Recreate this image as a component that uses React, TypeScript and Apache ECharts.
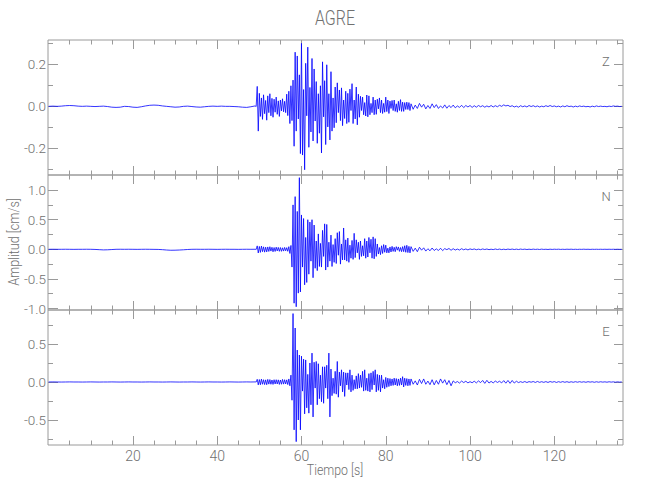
import React, { useEffect, useRef } from "react";
import * as echarts from "echarts";

// ---------- data (cm/s) ----------
// pre-event segment: t = 0 .. 48 s, one value per second
const zPre = [
  0.0, 0.001, 0.0, 0.001, 0.003, 0.004, 0.003, 0.001, 0.0, 0.001,
  0.0, -0.001, 0.0, 0.001, -0.001, -0.004, -0.005, -0.004, 0.0, -0.001,
  -0.004, -0.005, -0.002, 0.002, 0.005, 0.006, 0.005, 0.002, 0.0, -0.002,
  -0.004, -0.003, 0.0, 0.001, -0.001, -0.003, -0.004, -0.002, 0.0, 0.001,
  0.0, 0.001, 0.0, 0.0, -0.001, -0.002, -0.004, -0.005, -0.002,
];
const nPre = [
  0.0, 0.001, 0.0, 0.0, 0.001, 0.0, -0.001, 0.0, 0.0, 0.001,
  0.0, -0.002, -0.006, -0.01, -0.008, -0.004, 0.0, 0.001, 0.0, 0.001,
  0.0, -0.001, 0.0, 0.001, 0.0, -0.001, -0.002, -0.006, -0.012, -0.016,
  -0.015, -0.012, -0.008, -0.003, 0.0, 0.001, 0.0, 0.0, 0.001, 0.0,
  -0.001, 0.0, 0.001, 0.0, 0.0, -0.001, 0.0, 0.001, 0.0,
];
const ePre = [
  0.0, 0.001, 0.0, -0.001, 0.0, 0.001, 0.0, 0.0, -0.001, 0.0,
  0.001, 0.0, -0.001, 0.0, 0.0, 0.001, 0.0, -0.001, 0.0, 0.001,
  0.0, 0.0, -0.001, 0.0, 0.001, 0.0, 0.0, -0.001, 0.0, 0.001,
  0.0, -0.001, 0.0, 0.0, 0.001, 0.0, -0.001, 0.0, 0.001, 0.0,
  0.0, -0.001, 0.0, 0.001, 0.0, -0.001, 0.0, 0.001, 0.0,
];

// strong-motion segment: t = 49 .. 85.75 s, four values per second
const zMain = [
  0.002, -0.001, 0.095, -0.118,
  0.062, -0.048, 0.04, -0.062,
  0.055, -0.035, 0.028, -0.066,
  0.05, -0.03, 0.06, -0.045,
  0.038, -0.052, 0.034, -0.028,
  0.044, -0.038, 0.026, -0.048,
  0.03, -0.022, 0.036, -0.026,
  0.024, -0.03, 0.058, -0.044,
  0.072, -0.082, 0.098, -0.068,
  0.125, -0.19, 0.258, -0.118,
  0.24, -0.06, 0.15, -0.225,
  0.3, -0.232, 0.08, -0.302,
  0.205, -0.045, 0.282, -0.195,
  0.09, -0.122, 0.228, -0.165,
  0.178, -0.07, 0.118, -0.176,
  0.06, -0.128, 0.098, -0.222,
  0.212, -0.05, 0.122, -0.182,
  0.198, -0.098, 0.06, -0.16,
  0.165, -0.118, 0.04, -0.102,
  0.092, -0.078, 0.112, -0.03,
  0.078, -0.068, 0.088, -0.092,
  0.03, -0.058, 0.072, -0.082,
  0.062, -0.076, 0.082, -0.02,
  0.108, -0.082, 0.03, -0.06,
  0.092, -0.088, 0.058, -0.052,
  0.048, -0.02, 0.044, -0.04,
  0.018, -0.046, 0.054, -0.05,
  0.05, -0.04, 0.014, -0.03,
  0.044, -0.04, 0.03, -0.038,
  0.034, -0.012, 0.04, -0.03,
  0.03, -0.034, 0.014, -0.028,
  0.044, -0.025, 0.03, -0.034,
  0.025, -0.01, 0.028, -0.02,
  0.03, -0.024, 0.012, -0.028,
  0.024, -0.02, 0.032, -0.024,
  0.02, -0.024, 0.018, -0.015,
  0.02, -0.015, 0.018, -0.02,
];
const nMain = [
  0.001, -0.002, 0.058, -0.062,
  0.048, -0.052, 0.055, -0.04,
  0.042, -0.048, 0.036, -0.044,
  0.04, -0.036, 0.044, -0.03,
  0.034, -0.042, 0.03, -0.036,
  0.036, -0.028, 0.032, -0.034,
  0.03, -0.034, 0.026, -0.03,
  0.032, -0.026, 0.028, -0.034,
  0.045, -0.07, 0.065, -0.3,
  0.75, -0.91, 0.89, -0.97,
  0.64, -0.74, 1.21, -0.72,
  0.58, -0.3, 0.52, -0.6,
  0.2, -0.56, 0.5, -0.42,
  0.46, -0.2, 0.5, -0.48,
  0.41, -0.32, 0.14, -0.36,
  0.26, -0.29, 0.1, -0.3,
  0.32, -0.12, 0.43, -0.35,
  0.42, -0.3, 0.12, -0.2,
  0.24, -0.29, 0.08, -0.22,
  0.18, -0.24, 0.28, -0.1,
  0.3, -0.25, 0.09, -0.18,
  0.36, -0.18, 0.16, -0.2,
  0.19, -0.22, 0.07, -0.15,
  0.15, -0.17, 0.27, -0.14,
  0.16, -0.06, 0.12, -0.17,
  0.14, -0.12, 0.06, -0.11,
  0.18, -0.15, 0.14, -0.13,
  0.2, -0.06, 0.17, -0.15,
  0.21, -0.16, 0.18, -0.12,
  0.09, -0.08, 0.03, -0.09,
  0.06, -0.07, 0.08, -0.05,
  0.07, -0.06, 0.02, -0.06,
  0.04, -0.045, 0.05, -0.035,
  0.035, -0.04, 0.045, -0.015,
  0.04, -0.035, 0.03, -0.04,
  0.045, -0.04, 0.06, -0.05,
  0.068, -0.055, 0.05, -0.06,
];
const eMain = [
  0.001, 0.0, 0.035, -0.038,
  0.032, -0.036, 0.038, -0.03,
  0.03, -0.034, 0.028, -0.036,
  0.034, -0.028, 0.032, -0.03,
  0.026, -0.032, 0.03, -0.026,
  0.03, -0.026, 0.028, -0.032,
  0.026, -0.03, 0.034, -0.028,
  0.03, -0.026, 0.028, -0.034,
  0.04, -0.05, 0.09, -0.24,
  0.9, -0.63, 0.71, -0.785,
  0.42, -0.5, 0.355, -0.63,
  0.34, -0.12, 0.3, -0.42,
  0.29, -0.34, 0.1, -0.41,
  0.25, -0.3, 0.38, -0.46,
  0.26, -0.08, 0.27, -0.3,
  0.24, -0.22, 0.09, -0.26,
  0.2, -0.28, 0.2, -0.08,
  0.22, -0.22, 0.38, -0.46,
  0.17, -0.18, 0.05, -0.15,
  0.14, -0.16, 0.27, -0.2,
  0.13, -0.05, 0.16, -0.13,
  0.13, -0.19, 0.12, -0.04,
  0.12, -0.1, 0.16, -0.13,
  0.09, -0.11, 0.03, -0.09,
  0.08, -0.09, 0.11, -0.08,
  0.09, -0.07, 0.14, -0.12,
  0.16, -0.11, 0.05, -0.12,
  0.11, -0.13, 0.12, -0.1,
  0.14, -0.04, 0.16, -0.13,
  0.1, -0.11, 0.09, -0.13,
  0.09, -0.08, 0.03, -0.09,
  0.06, -0.07, 0.05, -0.06,
  0.045, -0.05, 0.04, -0.045,
  0.05, -0.04, 0.045, -0.05,
  0.04, -0.045, 0.05, -0.04,
  0.07, -0.065, 0.05, -0.045,
  0.045, -0.05, 0.04, -0.045,
];

// coda: t = 86 .. 136 s, two values per second
const zTail = [
  0.012, -0.014, 0.006, -0.01, 0.014, -0.004, 0.01, -0.012, 0.004, -0.01,
  0.012, -0.006, 0.008, -0.01, 0.002, -0.008, 0.007, -0.009, 0.004, -0.006,
  0.006, -0.007, 0.002, -0.005, 0.005, -0.006, 0.004, -0.003, 0.004, -0.005,
  0.003, -0.004, 0.004, -0.002, 0.003, -0.004, 0.002, -0.003, 0.004, -0.003,
  0.003, -0.002, 0.005, 0.0, 0.007, 0.002, 0.005, -0.001, 0.003, -0.003,
  0.001, -0.004, 0.003, -0.002, 0.002, -0.003, 0.004, -0.001, 0.003, -0.002,
  0.002, -0.003, 0.001, -0.002, 0.003, -0.001, 0.004, -0.001, 0.002, -0.002,
  0.001, -0.003, 0.002, -0.002, 0.003, -0.001, 0.001, -0.003, 0.001, -0.002,
  0.002, -0.001, 0.001, -0.002, 0.0, -0.003, 0.001, -0.002, 0.002, -0.001,
  0.001, -0.001, 0.0, -0.002, 0.001, -0.001, 0.002, 0.0, 0.001, -0.001,
  0.0,
];
const nTail = [
  0.045, -0.035, 0.02, -0.04, 0.035, -0.015, 0.025, -0.03, 0.01, -0.025,
  0.022, -0.02, 0.008, -0.02, 0.018, -0.022, 0.012, -0.006, 0.014, -0.016,
  0.01, -0.012, 0.004, -0.012, 0.01, -0.008, 0.006, -0.01, 0.007, -0.004,
  0.006, -0.007, 0.003, -0.006, 0.006, -0.004, 0.005, -0.006, 0.002, -0.005,
  0.005, -0.004, 0.004, -0.005, 0.002, -0.005, 0.004, -0.003, 0.004, -0.004,
  0.003, -0.004, 0.004, -0.002, 0.003, -0.004, 0.002, -0.003, 0.003, -0.002,
  0.002, -0.003, 0.003, -0.002, 0.001, -0.003, 0.002, -0.002, 0.002, -0.001,
  0.002, -0.002, 0.001, -0.002, 0.002, -0.001, 0.002, -0.002, 0.001, -0.002,
  0.001, -0.001, 0.002, -0.001, 0.001, -0.002, 0.001, -0.001, 0.001, -0.001,
  0.001, -0.001, 0.001, -0.001, 0.001, -0.001, 0.001, -0.001, 0.001, -0.001,
  0.0,
];
const eTail = [
  0.04, -0.03, 0.015, -0.04, 0.035, -0.02, 0.04, -0.03, 0.012, -0.035,
  0.03, -0.038, 0.02, -0.03, 0.04, -0.015, 0.03, -0.035, 0.02, -0.05,
  0.014, -0.01, 0.006, -0.014, 0.012, -0.008, 0.01, -0.012, 0.004, -0.01,
  0.01, -0.012, 0.014, -0.008, 0.02, -0.018, 0.022, -0.014, 0.008, -0.012,
  0.012, -0.006, 0.01, -0.012, 0.018, -0.016, 0.02, -0.018, 0.02, -0.014,
  0.01, -0.008, 0.004, -0.006, 0.006, -0.007, 0.005, -0.003, 0.006, -0.006,
  0.007, -0.005, 0.004, -0.005, 0.005, -0.006, 0.006, -0.003, 0.005, -0.006,
  0.004, -0.004, 0.005, -0.004, 0.004, -0.005, 0.003, -0.004, 0.004, -0.003,
  0.004, -0.003, 0.003, -0.004, 0.004, -0.002, 0.003, -0.004, 0.003, -0.003,
  0.003, -0.002, 0.002, -0.003, 0.003, -0.002, 0.002, -0.003, 0.002, -0.002,
  0.001,
];

const channels = ["Z", "N", "E"];
const xMajorTicks = [20, 40, 60, 80, 100, 120];
const xMinorTicks = [5, 10, 15, 25, 30, 35, 45, 50, 55, 65, 70, 75, 85, 90, 95, 105, 110, 115, 125, 130, 135];
const yMajorTicks = [
  [-0.2, 0, 0.2],
  [-1, -0.5, 0, 0.5, 1],
  [-0.5, 0, 0.5],
];
const yMinorTicks = [
  [-0.3, -0.1, 0.1, 0.3],
  [-0.75, -0.25, 0.25, 0.75],
  [-0.75, -0.25, 0.25, 0.75],
];
const yRanges = [
  [-0.327, 0.316],
  [-1.025, 1.255],
  [-0.829, 0.947],
];
const xRange = [-0.15, 136.3];

function buildTrace(pre: number[], main: number[], tail: number[]) {
  const pts: number[][] = [];
  pre.forEach((v, i) => pts.push([0 + i * 1, v]));
  main.forEach((v, i) => pts.push([49 + i * 0.25, v]));
  tail.forEach((v, i) => pts.push([86 + i * 0.5, v]));
  return pts;
}

const traces = [
  buildTrace(zPre, zMain, zTail),
  buildTrace(nPre, nMain, nTail),
  buildTrace(ePre, eMain, eTail),
];

const FONT = "Roboto, 'Liberation Sans', sans-serif";
const LINE = "#9a9a9a";
const TEXT = "#707070";

export default function App() {
  const ref = useRef<HTMLDivElement>(null);
  useEffect(() => {
    if (!ref.current) return;
    const chart = echarts.init(ref.current, undefined, { renderer: "svg" });
    const tops = [40, 175, 310];
    const grids = tops.map((top) => ({
      left: 48,
      right: 27,
      top,
      height: 135,
      show: true,
      borderColor: LINE,
      borderWidth: 1,
      backgroundColor: "transparent",
    }));

    const xAxes: any[] = [];
    const yAxes: any[] = [];
    const series: any[] = [];
    tops.forEach((_, g) => {
      const mk = (position: string, vals: number[], len: number, labels: boolean) => ({
        type: "value",
        gridIndex: g,
        position,
        min: xRange[0],
        max: xRange[1],
        axisLine: { show: false, onZero: false },
        splitLine: { show: false },
        axisTick: { show: true, inside: true, length: len, customValues: vals, lineStyle: { color: LINE, width: 1 } },
        axisLabel: {
          show: labels,
          customValues: xMajorTicks,
          color: TEXT,
          fontFamily: FONT,
          fontWeight: 300,
          fontSize: 14,
          margin: 4,
        },
      });
      xAxes.push(mk("bottom", xMajorTicks, 9, g === 2));
      xAxes.push(mk("bottom", xMinorTicks, 4.5, false));
      xAxes.push(mk("top", xMajorTicks, 9, false));
      xAxes.push(mk("top", xMinorTicks, 4.5, false));

      const mky = (position: string, vals: number[], len: number, labels: boolean) => ({
        type: "value",
        gridIndex: g,
        position,
        min: yRanges[g][0],
        max: yRanges[g][1],
        axisLine: { show: false, onZero: false },
        splitLine: { show: false },
        axisTick: { show: true, inside: true, length: len, customValues: vals, lineStyle: { color: LINE, width: 1 } },
        axisLabel: {
          show: labels,
          customValues: yMajorTicks[g],
          formatter: (v: number) => v.toFixed(1),
          color: TEXT,
          fontFamily: FONT,
          fontWeight: 300,
          fontSize: 13.5,
          margin: 2,
        },
      });
      yAxes.push(mky("left", yMajorTicks[g], 10, true));
      yAxes.push(mky("left", yMinorTicks[g], 5, false));
      yAxes.push(mky("right", yMajorTicks[g], 9, false));
      yAxes.push(mky("right", yMinorTicks[g], 5, false));

      series.push({
        type: "line",
        name: channels[g],
        xAxisIndex: g * 4,
        yAxisIndex: g * 4,
        data: traces[g],
        showSymbol: false,
        symbol: "none",
        lineStyle: { color: "#0000ff", width: 0.8 },
        clip: true,
      });
    });

    const graphic: any[] = [
      {
        type: "text",
        x: 335,
        y: 18,
        scaleX: 0.8,
        style: { text: "AGRE", fill: TEXT, font: `300 20px ${FONT}`, align: "center", verticalAlign: "middle" },
      },
      {
        type: "text",
        x: 335,
        y: 470,
        scaleX: 0.88,
        style: { text: "Tiempo [s]", fill: TEXT, font: `300 14px ${FONT}`, align: "center", verticalAlign: "middle" },
      },
      {
        type: "text",
        x: 14,
        y: 242,
        rotation: Math.PI / 2,
        scaleX: 0.9,
        style: { text: "Amplitud [cm/s]", fill: TEXT, font: `300 14px ${FONT}`, align: "center", verticalAlign: "middle" },
      },
    ];
    channels.forEach((c, g) => {
      graphic.push({
        type: "text",
        x: 606,
        y: tops[g] + 21,
        style: { text: c, fill: TEXT, font: `300 13px ${FONT}`, align: "center", verticalAlign: "middle" },
      });
    });

    chart.setOption({
      animation: false,
      backgroundColor: "#ffffff",
      grid: grids,
      xAxis: xAxes,
      yAxis: yAxes,
      series,
      graphic,
    });
    return () => chart.dispose();
  }, []);
  return (
    <div
      ref={ref}
      style={{ position: "absolute", left: 0, top: 0, width: 650, height: 500 }}
    />
  );
}
